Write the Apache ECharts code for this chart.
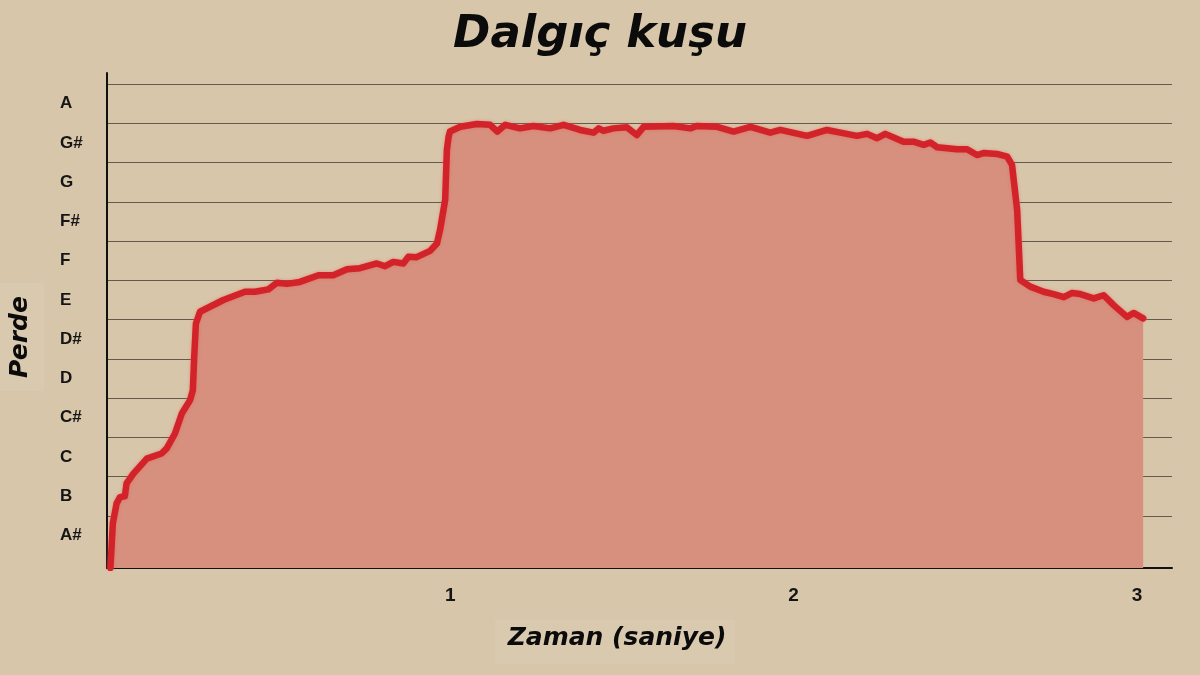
<!DOCTYPE html>
<html>
<head>
<meta charset="utf-8">
<script src="https://cdn.jsdelivr.net/npm/echarts@6/dist/echarts.min.js"></script>
<style>
html,body{margin:0;padding:0;background:#d7c6a9;}
#chart{width:1200px;height:675px;}
</style>
</head>
<body>
<div id="chart"></div>
<script>
// Data: time in seconds, pitch in semitone units (0 = A# band bottom, 12 = top of G# band)
const timeSec = [0.010,0.017,0.028,0.038,0.052,0.057,0.077,0.116,0.159,0.174,0.198,0.218,0.242,0.250,0.254,0.259,0.271,0.339,0.402,0.431,0.470,0.495,0.524,0.562,0.616,0.659,0.699,0.737,0.786,0.810,0.834,0.863,0.878,0.902,0.941,0.961,0.970,0.985,0.990,0.995,0.999,1.029,1.077,1.116,1.137,1.160,1.203,1.242,1.291,1.330,1.378,1.417,1.432,1.446,1.475,1.514,1.543,1.563,1.650,1.699,1.718,1.777,1.825,1.874,1.932,1.961,2.039,2.097,2.136,2.184,2.214,2.243,2.267,2.320,2.349,2.379,2.398,2.418,2.476,2.505,2.534,2.553,2.592,2.622,2.636,2.651,2.660,2.689,2.728,2.757,2.787,2.811,2.835,2.874,2.903,2.932,2.971,2.990,3.018];
const pitchVal = [-0.32,0.81,1.32,1.48,1.50,1.83,2.08,2.46,2.59,2.72,3.10,3.61,3.95,4.20,5.05,5.90,6.20,6.50,6.71,6.71,6.77,6.94,6.91,6.96,7.13,7.13,7.28,7.31,7.43,7.36,7.47,7.43,7.60,7.59,7.75,7.94,8.28,9.05,10.32,10.66,10.79,10.91,10.98,10.96,10.79,10.96,10.87,10.93,10.87,10.96,10.83,10.76,10.87,10.81,10.87,10.90,10.70,10.91,10.93,10.87,10.93,10.91,10.79,10.91,10.76,10.83,10.68,10.83,10.76,10.68,10.73,10.62,10.73,10.53,10.53,10.45,10.51,10.39,10.34,10.34,10.19,10.24,10.22,10.15,9.94,8.79,7.01,6.84,6.71,6.65,6.57,6.68,6.65,6.54,6.62,6.37,6.07,6.17,6.03];
const noteNames = ['A#','B','C','C#','D','D#','E','F','F#','G','G#','A'];
const noteLabelValues = [0.5,1.5,2.5,3.5,4.5,5.5,6.5,7.5,8.5,9.5,10.5,11.5];
const gridLineValues = [1,2,3,4,5,6,7,8,9,10,11,12];
const xTickValues = [1,2,3];

const chart = echarts.init(document.getElementById('chart'));
const seriesData = timeSec.map((t,i)=>[t,pitchVal[i]]);
const headFont = "'DejaVu Sans'";

chart.setOption({
  backgroundColor:'#d7c6a9',
  animation:false,
  title:{
    text:'Dalgıç kuşu',
    left:'center',
    top:8,
    textStyle:{fontFamily:headFont,fontSize:45,fontWeight:'bold',fontStyle:'italic',color:'#0b0b0b'}
  },
  grid:{left:107,right:28,top:73,bottom:107,containLabel:false},
  xAxis:{
    type:'value',min:0,max:3.102,
    axisLine:{show:true,onZero:false,lineStyle:{color:'#111',width:2}},
    axisTick:{show:false},
    splitLine:{show:false},
    axisLabel:{customValues:xTickValues,margin:18,fontFamily:'Liberation Sans',fontWeight:'bold',fontSize:19,color:'#151515'}
  },
  yAxis:{
    type:'value',min:-0.325,max:12.28,
    axisLine:{show:true,lineStyle:{color:'#111',width:2}},
    axisTick:{show:false,customValues:gridLineValues},
    splitLine:{show:true,lineStyle:{color:'#65594d',width:1.2}},
    axisLabel:{
      customValues:noteLabelValues,
      formatter:function(v){return noteNames[Math.round(v-0.5)];},
      align:'left',margin:47,
      fontFamily:'Liberation Sans',fontWeight:'bold',fontSize:17,color:'#151515'
    }
  },
  graphic:[
    {type:'rect',shape:{x:0,y:283,width:44,height:108},style:{fill:'rgba(255,255,255,0.06)'},silent:true},
    {type:'rect',shape:{x:495,y:620,width:240,height:44},style:{fill:'rgba(255,255,255,0.06)'},silent:true},
    {type:'text',x:20,y:337,rotation:Math.PI/2,
     style:{text:'Perde',fontFamily:headFont,fontSize:25,fontWeight:'bold',fontStyle:'italic',fill:'#0b0b0b',align:'center',verticalAlign:'middle'}},
    {type:'text',x:617,y:638,
     style:{text:'Zaman (saniye)',fontFamily:headFont,fontSize:25,fontWeight:'bold',fontStyle:'italic',fill:'#0b0b0b',align:'center',verticalAlign:'middle'}}
  ],
  series:[{
    type:'line',
    data:seriesData,
    showSymbol:false,
    smooth:false,
    lineStyle:{color:'#d2232a',width:6.5,join:'round',cap:'round',shadowColor:'rgba(240,90,90,0.6)',shadowBlur:3},
    areaStyle:{color:'#d6907d',opacity:1,origin:'start'},
    z:3
  }]
});
</script>
</body>
</html>
